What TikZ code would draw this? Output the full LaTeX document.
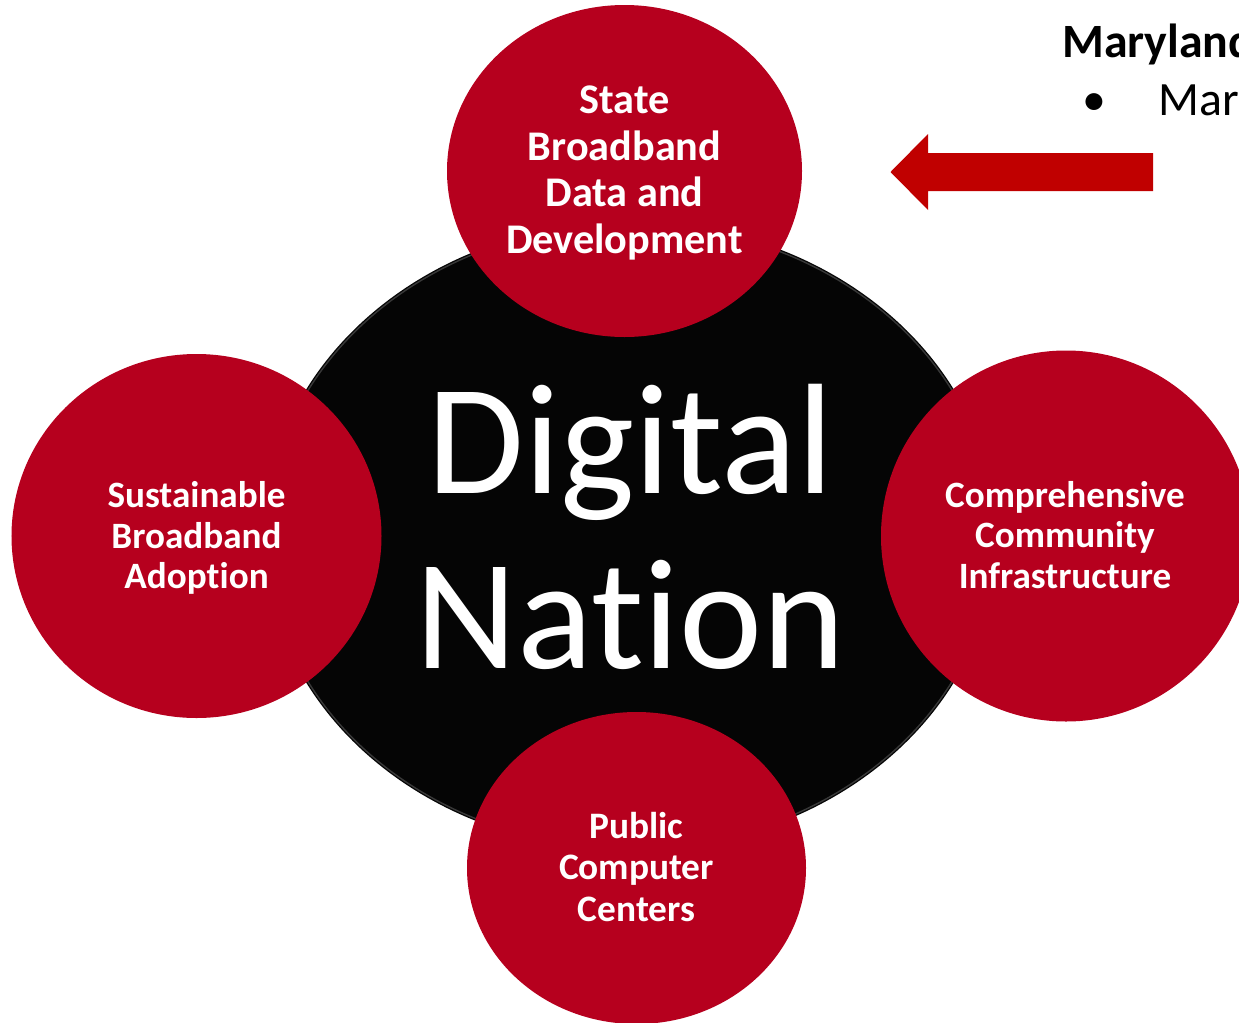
\documentclass[tikz,border=0pt]{standalone}
\usepackage{fontspec}
\setmainfont{Carlito}[Ligatures=NoCommon]
\usetikzlibrary{shapes.geometric}
\definecolor{dnred}{RGB}{182,0,30}
\definecolor{arrowred}{RGB}{192,0,0}
\definecolor{dnblack}{RGB}{5,5,5}
\tikzset{
  pillar/.style={ellipse, fill=dnred, inner sep=0pt},
  pillartext/.style={text=white, align=center, inner sep=0pt},
  hub/.style={ellipse, fill=dnblack, inner sep=0pt},
}
\begin{document}
\begin{tikzpicture}[x=1bp,y=-1bp]
\useasboundingbox (0,0) rectangle (1239,1023);
\clip (0,0) rectangle (1239,1023);
% central black disc
\node[hub, minimum width=732bp, minimum height=628bp] (hub) at (630,536) {};
\draw[black!78, line width=1.4bp] (630,536) ellipse [x radius=364bp, y radius=312bp];
\node[text=white, align=center, font=\fontsize{158}{176}\selectfont] (dn) at (630.5,527) {Digital\\Nation};
% four red pillars
\node[pillar, minimum width=355bp, minimum height=332bp] (top) at (624.5,171) {};
\node[pillar, minimum width=370bp, minimum height=364bp] (left) at (196.5,536) {};
\node[pillar, minimum width=370bp, minimum height=371bp] (right) at (1066,536) {};
\node[pillar, minimum width=339bp, minimum height=312bp] (bottom) at (636.5,868) {};
\node[pillartext, font=\bfseries\fontsize{42.4}{47}\selectfont] (topT) at (624.5,173) {State\\Broadband\\Data and\\Development};
\node[pillartext, font=\bfseries\fontsize{37.3}{41}\selectfont] (leftT) at (196.5,538) {Sustainable\\Broadband\\Adoption};
\node[pillartext, font=\bfseries\fontsize{37.3}{40.5}\selectfont] (rightT) at (1065,535) {Comprehensive\\Community\\Infrastructure};
\node[pillartext, font=\bfseries\fontsize{37.5}{41.5}\selectfont] (bottomT) at (636.5,867) {Public\\Computer\\Centers};
% arrow
\fill[arrowred] (1153,153) -- (928,153) -- (928,134) -- (890.5,172) -- (928,210) -- (928,191) -- (1153,191) -- cycle;
% text at top right
\node[anchor=base west, inner sep=0pt, font=\bfseries\fontsize{48}{58}\selectfont] (md) at (1062,57) {Maryland};
\node[anchor=base west, inner sep=0pt, font=\fontsize{48}{58}\selectfont] (bul) at (1082,115) {•};
\node[anchor=base west, inner sep=0pt, font=\fontsize{48}{58}\selectfont] (mar) at (1158,115) {Mar};
\end{tikzpicture}
\end{document}
